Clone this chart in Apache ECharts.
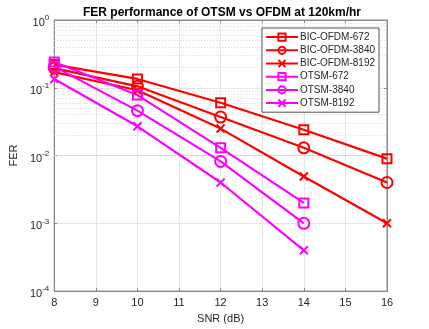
<!DOCTYPE html>
<html>
<head>
<meta charset="utf-8">
<script src="https://cdn.jsdelivr.net/npm/echarts@6/dist/echarts.min.js"></script>
<style>
  html, body { margin: 0; padding: 0; background: #fff; }
  #chart { width: 429px; height: 329px; }
</style>
</head>
<body>
<div id="chart"></div>
<script>
// SNR points (dB)
const snr = [8, 10, 12, 14, 16];

// FER
const bicOfdm672 = [0.22, 0.135, 0.060, 0.024, 0.009];
const bicOfdm3840 = [0.195, 0.105, 0.037, 0.013, 0.004];
const bicOfdm8192 = [0.17, 0.092, 0.025, 0.0049, 0.001];
const otsm672 = [0.24, 0.078, 0.013, 0.002];
const otsm3840 = [0.205, 0.046, 0.0082, 0.001];
const otsm8192 = [0.135, 0.027, 0.004, 0.0004];

const xTicks = [8, 9, 10, 11, 12, 13, 14, 15, 16];

const RED = '#ff0000';
const MAG = '#ff00ff';
const CROSS = 'path://M0,0L10,10M10,0L0,10';

// dotted minor grid at 2..9 x 10^k
const minorGrid = [];
for (let k = -4; k < 0; k++) {
  for (let m = 2; m <= 9; m++) minorGrid.push({ yAxis: m * Math.pow(10, k) });
}

function makeSeries(name, values, color, symbol, size) {
  return {
    name: name,
    type: 'line',
    data: values.map((v, i) => [snr[i], v]),
    symbol: symbol,
    symbolSize: size,
    showAllSymbol: true,
    lineStyle: { color: color, width: 2.2 },
    itemStyle: { color: 'none', borderColor: color, borderWidth: 2 },
    emphasis: { disabled: true },
    z: 3,
  };
}

const series = [
  makeSeries('BIC-OFDM-672', bicOfdm672, RED, 'rect', 9),
  makeSeries('BIC-OFDM-3840', bicOfdm3840, RED, 'circle', 11),
  makeSeries('BIC-OFDM-8192', bicOfdm8192, RED, CROSS, 8),
  makeSeries('OTSM-672', otsm672, MAG, 'rect', 9),
  makeSeries('OTSM-3840', otsm3840, MAG, 'circle', 11),
  makeSeries('OTSM-8192', otsm8192, MAG, CROSS, 8),
];
series[0].markLine = {
  silent: true,
  symbol: 'none',
  label: { show: false },
  lineStyle: { color: '#d4d4d4', type: [1, 2], width: 1 },
  data: minorGrid,
  z: 1,
};

const axisGrey = '#8a8a8a';
const textCol = '#262626';

const chart = echarts.init(document.getElementById('chart'));
chart.setOption({
  animation: false,
  textStyle: { fontFamily: 'Liberation Sans' },
  title: {
    text: 'FER performance of OTSM vs OFDM at 120km/hr',
    left: 217,
    textAlign: 'center',
    top: 2,
    textStyle: { fontSize: 12, fontWeight: 'bold', color: '#000', fontFamily: 'Liberation Sans' },
  },
  grid: { left: 47, right: 42, top: 20, bottom: 37, show: true, borderColor: axisGrey, borderWidth: 1 },
  legend: {
    orient: 'vertical',
    right: 50,
    top: 28,
    itemWidth: 32,
    itemHeight: 9,
    itemGap: 1,
    padding: [3, 4, 3, 3],
    backgroundColor: '#fff',
    borderColor: '#262626',
    borderWidth: 0.8,
    borderRadius: 0,
    textStyle: { fontSize: 10, lineHeight: 12, color: textCol, fontFamily: 'Liberation Sans', padding: [0, 0, 0, -3] },
    data: series.map(s => s.name),
  },
  xAxis: [{
    type: 'value',
    min: 8,
    max: 16,
    interval: 1,
    name: 'SNR (dB)',
    nameLocation: 'middle',
    nameGap: 21,
    nameTextStyle: { fontSize: 11, color: textCol },
    axisLine: { lineStyle: { color: axisGrey } },
    axisTick: { inside: true, length: 3, lineStyle: { color: axisGrey } },
    axisLabel: { fontSize: 11, color: textCol, margin: 6, formatter: v => xTicks.includes(v) ? String(v) : '' },
    splitLine: { show: true, lineStyle: { color: '#e6e6e6', width: 1 } },
  }, {
    type: 'value',
    position: 'top',
    min: 8,
    max: 16,
    interval: 1,
    axisLine: { show: true, lineStyle: { color: axisGrey } },
    axisTick: { inside: true, length: 3, lineStyle: { color: axisGrey } },
    axisLabel: { show: false },
    splitLine: { show: false },
  }],
  yAxis: [{
    type: 'log',
    logBase: 10,
    min: 1e-4,
    max: 1,
    name: 'FER',
    nameLocation: 'middle',
    nameGap: 31,
    nameTextStyle: { fontSize: 11, color: textCol },
    axisLine: { show: true, lineStyle: { color: axisGrey } },
    axisTick: { show: true, inside: true, length: 3, lineStyle: { color: axisGrey } },
    axisLabel: {
      fontSize: 11,
      color: textCol,
      margin: 5,
      showMinLabel: true,
      showMaxLabel: true,
      formatter: v => '{b|10}{s|' + Math.round(Math.log10(v)) + '}',
      rich: {
        b: { fontSize: 11, color: textCol, padding: [6, 0, 0, 0] },
        s: { fontSize: 8, color: textCol, padding: [0, 0, 4, 0] },
      },
    },
    splitLine: { show: true, lineStyle: { color: '#e6e6e6', width: 1 } },
  }, {
    type: 'log',
    logBase: 10,
    min: 1e-4,
    max: 1,
    position: 'right',
    axisLine: { show: true, lineStyle: { color: axisGrey } },
    axisTick: { show: true, inside: true, length: 3, lineStyle: { color: axisGrey } },
    axisLabel: { show: false },
    splitLine: { show: false },
  }],
  series: series,
});
</script>
</body>
</html>
